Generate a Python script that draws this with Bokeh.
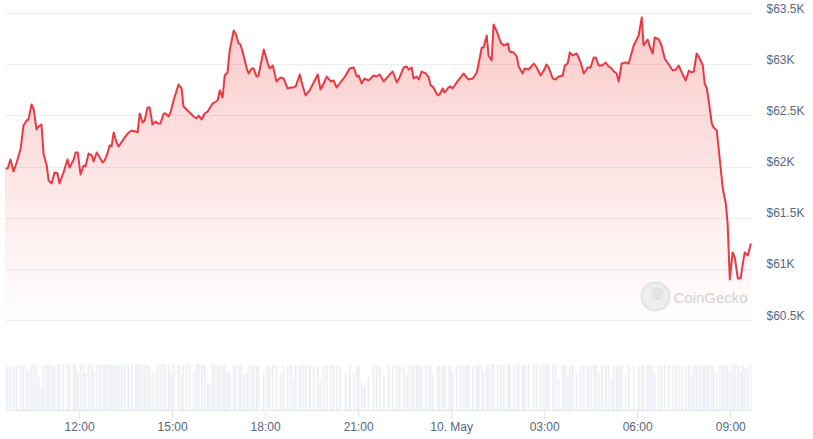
import numpy as np
from bokeh.plotting import figure
from bokeh.models import Range1d, LinearAxis, FixedTicker, Grid
from bokeh.embed import file_html
from bokeh.resources import INLINE
from bokeh.core.properties import value

# ---- data (hours since 9 May 00:00, price in USD, volume relative) ----
hours = [9.61, 9.68, 9.77, 9.87, 9.97, 10.10, 10.19, 10.29, 10.35, 10.45,
         10.52, 10.61, 10.68, 10.77, 10.84, 10.94, 11.00, 11.10, 11.19, 11.29,
         11.35, 11.48, 11.61, 11.68, 11.81, 11.87, 11.94, 12.03, 12.13, 12.19,
         12.29, 12.39, 12.45, 12.55, 12.65, 12.74, 12.81, 12.90, 12.97, 13.03,
         13.10, 13.19, 13.26, 13.35, 13.45, 13.58, 13.68, 13.81, 13.87, 13.94,
         14.03, 14.10, 14.19, 14.26, 14.35, 14.45, 14.52, 14.61, 14.71, 14.77,
         14.87, 14.94, 15.03, 15.19, 15.29, 15.35, 15.45, 15.55, 15.68, 15.77,
         15.84, 15.94, 16.03, 16.13, 16.19, 16.29, 16.35, 16.45, 16.52, 16.61,
         16.68, 16.77, 16.84, 16.97, 17.03, 17.13, 17.19, 17.29, 17.39, 17.45,
         17.55, 17.61, 17.71, 17.77, 17.94, 18.06, 18.13, 18.23, 18.35, 18.48,
         18.58, 18.71, 18.81, 18.90, 18.97, 19.10, 19.19, 19.29, 19.42, 19.55,
         19.68, 19.77, 19.87, 19.97, 20.10, 20.19, 20.29, 20.39, 20.58, 20.71,
         20.84, 20.94, 21.00, 21.10, 21.19, 21.32, 21.48, 21.58, 21.68, 21.81,
         21.97, 22.10, 22.23, 22.32, 22.45, 22.55, 22.61, 22.71, 22.77, 22.87,
         22.94, 23.03, 23.16, 23.26, 23.32, 23.39, 23.55, 23.61, 23.71, 23.77,
         23.90, 23.97, 24.03, 24.16, 24.29, 24.39, 24.48, 24.55, 24.68, 24.81,
         24.87, 24.97, 25.03, 25.13, 25.19, 25.29, 25.35, 25.48, 25.58, 25.68,
         25.81, 25.87, 26.00, 26.10, 26.16, 26.29, 26.35, 26.48, 26.65, 26.74,
         26.87, 26.97, 27.06, 27.13, 27.26, 27.35, 27.45, 27.58, 27.65, 27.74,
         27.81, 27.90, 28.03, 28.16, 28.26, 28.39, 28.48, 28.58, 28.65, 28.74,
         28.84, 28.97, 29.06, 29.16, 29.23, 29.32, 29.39, 29.48, 29.61, 29.71,
         29.87, 30.03, 30.13, 30.19, 30.32, 30.39, 30.48, 30.55, 30.68, 30.77,
         30.87, 31.00, 31.13, 31.23, 31.32, 31.42, 31.55, 31.65, 31.74, 31.81,
         31.90, 32.00, 32.10, 32.16, 32.23, 32.29, 32.39, 32.45, 32.55, 32.65,
         32.74, 32.77, 32.84, 32.90, 32.97, 33.06, 33.13, 33.23, 33.32, 33.39,
         33.45, 33.55, 33.65]

price = [61986, 61986, 62073, 61956, 62044, 62181, 62406, 62455, 62464, 62611,
         62562, 62367, 62396, 62415, 62122, 62015, 61868, 61839, 61946, 61937,
         61839, 61946, 62073, 61995, 62073, 62142, 62142, 61927, 62015, 62005,
         62132, 62113, 62054, 62142, 62093, 62044, 62064, 62132, 62210, 62201,
         62337, 62240, 62201, 62240, 62288, 62337, 62357, 62347, 62337, 62523,
         62435, 62455, 62582, 62582, 62415, 62445, 62425, 62425, 62523, 62523,
         62494, 62542, 62650, 62806, 62767, 62591, 62562, 62533, 62494, 62474,
         62503, 62464, 62523, 62542, 62572, 62621, 62630, 62650, 62748, 62679,
         62894, 62924, 63138, 63334, 63305, 63207, 63197, 63090, 62963, 62914,
         62963, 62963, 62884, 62894, 63148, 63021, 62963, 62992, 62836, 62875,
         62865, 62767, 62777, 62777, 62787, 62904, 62796, 62699, 62748, 62826,
         62904, 62757, 62816, 62884, 62836, 62845, 62777, 62816, 62894, 62963,
         62972, 62884, 62894, 62816, 62865, 62845, 62894, 62884, 62904, 62836,
         62894, 62933, 62826, 62875, 62972, 62982, 62953, 62972, 62865, 62884,
         62855, 62933, 62914, 62875, 62796, 62787, 62699, 62709, 62767, 62728,
         62777, 62787, 62767, 62826, 62875, 62914, 62875, 62855, 62865, 62924,
         63011, 63168, 63168, 63285, 63090, 63041, 63393, 63305, 63217, 63187,
         63207, 63129, 63119, 63080, 62982, 62914, 62963, 62953, 63011, 62972,
         62894, 62943, 63002, 62972, 62865, 62855, 62884, 62894, 62992, 63011,
         63119, 63090, 63109, 63021, 62914, 62972, 62972, 63070, 63070, 62992,
         62992, 63021, 62982, 62963, 62933, 62914, 62836, 63011, 63021, 63011,
         63187, 63285, 63461, 63187, 63246, 63178, 63109, 63266, 63246, 63187,
         63060, 63002, 62943, 62953, 62992, 62924, 62845, 62943, 62924, 62933,
         63109, 63060, 62992, 62816, 62767, 62650, 62425, 62386, 62357, 62064,
         61800, 61751, 61644, 61448, 60901, 61165, 61116, 60911, 60911, 61057,
         61165, 61135, 61253]

volume = [93, 94, 94, 95, 93, 96, 95, 92, 85, 97,
          98, 97, 70, 50, 95, 97, 98, 96, 95, 97,
          98, 99, 98, 97, 99, 98, 82, 99, 98, 80,
          98, 99, 81, 98, 99, 97, 98, 99, 97, 98,
          96, 97, 99, 98, 97, 98, 99, 98, 99, 97,
          98, 99, 98, 97, 81, 80, 97, 98, 99, 98,
          97, 80, 98, 97, 77, 98, 99, 97, 81, 98,
          99, 98, 97, 60, 58, 98, 97, 98, 96, 97,
          98, 82, 80, 96, 97, 98, 97, 79, 80, 97,
          98, 97, 96, 95, 79, 96, 95, 96, 97, 79,
          95, 96, 97, 68, 96, 97, 95, 96, 97, 96,
          95, 68, 96, 95, 96, 97, 95, 96, 78, 96,
          81, 95, 96, 60, 52, 70, 95, 96, 95, 78,
          96, 95, 96, 97, 95, 77, 96, 95, 96, 97,
          95, 96, 95, 96, 97, 77, 96, 95, 96, 95,
          96, 95, 79, 96, 95, 96, 97, 96, 95, 96,
          97, 98, 81, 97, 98, 99, 98, 99, 97, 98,
          99, 98, 97, 99, 98, 99, 97, 98, 99, 98,
          97, 98, 99, 97, 98, 97, 68, 96, 97, 75,
          96, 97, 79, 96, 97, 96, 95, 96, 97, 79,
          96, 97, 96, 68, 96, 95, 96, 97, 77, 96,
          95, 96, 97, 96, 95, 96, 97, 79, 96, 95,
          96, 97, 95, 96, 97, 95, 96, 97, 77, 96,
          97, 96, 95, 96, 97, 96, 95, 96, 79, 96,
          97, 96, 97, 96, 85, 96, 99, 97, 85, 96,
          87, 96, 98]

x_ticks = [12, 15, 18, 21, 24, 27, 30, 33]
x_tick_labels = ["12:00", "15:00", "18:00", "21:00", "10. May", "03:00", "06:00", "09:00"]
y_ticks = [60500, 61000, 61500, 62000, 62500, 63000, 63500]
y_tick_labels = ["$60.5K", "$61K", "$61.5K", "$62K", "$62.5K", "$63K", "$63.5K"]

# ---- styling ----
LINE_COLOR = "#ea3943"
FILL_RGB = (240, 60, 60)
VOL_COLOR = "#eceff3"
TEXT_COLOR = "#58667e"
FONT = "Liberation Sans"

FRAME_W, FRAME_H = 746, 402
x0, x1 = 9.61, 33.67
y0, y1 = 59620.5, 63548.9

p = figure(frame_width=FRAME_W, frame_height=FRAME_H,
           x_range=Range1d(x0, x1), y_range=Range1d(y0, y1),
           y_axis_location=None, output_backend="svg", toolbar_location=None,
           min_border=0, min_border_left=5, min_border_top=8,
           outline_line_color=None,
           background_fill_color="white", border_fill_color="white")
p.xgrid.visible = False
p.ygrid.visible = False

p.extra_y_ranges = {"lab": Range1d(y0 - 48.0, y1 - 48.0),
                    "vol": Range1d(0, 855.3)}

t = np.array(hours, dtype=float)
pr = np.array(price, dtype=float)

# gradient area fill (stacked bands, top darkest)
base = y_ticks[0]
pmax = pr.max()
N = 50
edges = [pmax - k * (pmax - base) / N for k in range(N + 1)]
for k in range(N):
    hi = edges[k]
    mid = 0.5 * (edges[k] + edges[k + 1])
    a = 0.27 * (mid - base) / (pmax - base)
    rgb = tuple(int(round(255 - a * (255 - c))) for c in FILL_RGB)
    color = "#%02x%02x%02x" % rgb
    p.varea(x=t, y1=np.full_like(pr, base), y2=np.minimum(pr, hi),
            fill_color=color, fill_alpha=1.0)

# volume bars
p.vbar(x=t, top=volume, width=0.062, y_range_name="vol",
       fill_color=VOL_COLOR, line_color=None)

# watermark (decoration, placed in screen-derived data coords)
def px2x(px):
    return x0 + (px - 5) / FRAME_W * (x1 - x0)

def py2y(py):
    return y1 - (py - 8) / FRAME_H * (y1 - y0)

p.scatter([px2x(655)], [py2y(296)], size=28, fill_color="#eeeeee",
          line_color="#e2e2e2", line_width=2)
p.scatter([px2x(657)], [py2y(293)], size=13, fill_color="#e3e3e3",
          line_color=None)
p.text([px2x(673)], [py2y(297)], text=["CoinGecko"],
       text_font=value(FONT), text_font_size="15px", text_color="#d2d2d2",
       text_baseline="middle", text_align="left")

# grid lines above the fill
grid = Grid(dimension=1, ticker=FixedTicker(ticks=y_ticks),
            grid_line_color="#1e2a44", grid_line_alpha=0.08, grid_line_width=1)
grid.level = "guide"
p.add_layout(grid, "center")

# price line
p.line(t, pr, line_color=LINE_COLOR, line_width=2, line_join="round",
       level="annotation")

# x axis
xa = p.xaxis[0]
xa.ticker = FixedTicker(ticks=x_ticks)
xa.major_label_overrides = dict(zip(x_ticks, x_tick_labels))
xa.axis_line_color = "#e3e6ea"
xa.major_tick_line_color = "#e3e6ea"
xa.major_tick_out = 8
xa.major_tick_in = 0
xa.minor_tick_line_color = None
xa.major_label_standoff = 1
xa.major_label_text_color = TEXT_COLOR
xa.major_label_text_font = FONT
xa.major_label_text_font_size = "12px"

# right price axis
ya = LinearAxis(y_range_name="lab", ticker=FixedTicker(ticks=y_ticks),
                major_label_overrides=dict(zip(y_ticks, y_tick_labels)),
                axis_line_color=None, major_tick_line_color=None,
                minor_tick_line_color=None, major_tick_out=0, major_tick_in=0,
                major_label_standoff=15, major_label_text_color=TEXT_COLOR,
                major_label_text_font=FONT, major_label_text_font_size="12px")
p.add_layout(ya, "right")

open("out.html", "w").write(file_html(p, INLINE))
